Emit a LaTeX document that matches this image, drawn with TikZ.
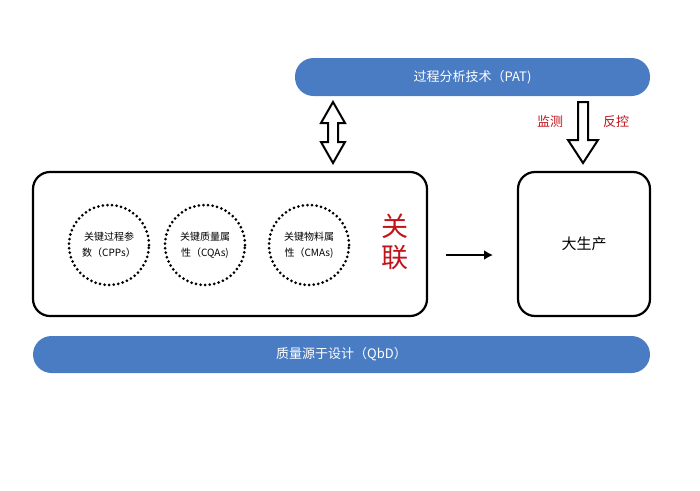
\documentclass[tikz,border=0pt]{standalone}
\usetikzlibrary{arrows.meta}
\usepackage{fontspec}
\setmainfont{Noto Sans CJK SC}
\definecolor{barblue}{HTML}{4A7CC4}
\definecolor{redtxt}{HTML}{C0141C}
\begin{document}
\begin{tikzpicture}[x=1pt,y=-1pt,
  bar/.style={fill=barblue,draw=none,rounded corners=18.5pt,text=white,font=\fontsize{13}{15}\selectfont},
  box/.style={draw=black,line width=2.2pt,rounded corners=17pt},
  circ/.style={draw=black,circle,line width=3pt,dash pattern=on 0pt off 4.6pt,line cap=round,minimum size=80pt,inner sep=0pt,align=center,font=\fontsize{10}{16}\selectfont},
  hollow/.style={draw=black,fill=white,line width=2pt,line join=miter},
  red/.style={text=redtxt}]
\useasboundingbox (0,0) rectangle (700,490);
\node[bar,minimum width=355pt,minimum height=38pt] (pat) at (472.5,77) {过程分析技术（PAT)};
\node[bar,minimum width=617pt,minimum height=37pt] (qbd) at (341.5,354.5) {质量源于设计（QbD）};
\node[box,minimum width=394pt,minimum height=144pt] (left) at (230,244) {};
\node[box,minimum width=132pt,minimum height=144pt,font=\fontsize{15}{18}\selectfont] (prod) at (584,244) {大生产};
\node[circ] (c1) at (109,245) {关键过程参\\数（CPPs）};
\node[circ] (c2) at (205,245) {关键质量属\\性（CQAs)};
\node[circ] (c3) at (309,245) {关键物料属\\性（CMAs)};
\node[red,font=\fontsize{27}{31}\selectfont,align=center] (gl) at (395,242) {关\\联};
\coordinate (as) at (446,255);
\coordinate (ae) at (493,255);
\draw[line width=2.4pt,-{Latex[length=9pt,width=10pt]}] (as) -- (ae);
\draw[hollow] (333,102) -- (345,123) -- (338,123) -- (338,142) -- (345,142) -- (333,163) -- (321,142) -- (328,142) -- (328,123) -- (321,123) -- cycle;
\draw[hollow] (578,102) -- (588,102) -- (588,140) -- (598,140) -- (583,163) -- (568,140) -- (578,140) -- cycle;
\node[red,font=\fontsize{13}{15}\selectfont] (m1) at (550,122) {监测};
\node[red,font=\fontsize{13}{15}\selectfont] (m2) at (616,122) {反控};
\end{tikzpicture}
\end{document}
